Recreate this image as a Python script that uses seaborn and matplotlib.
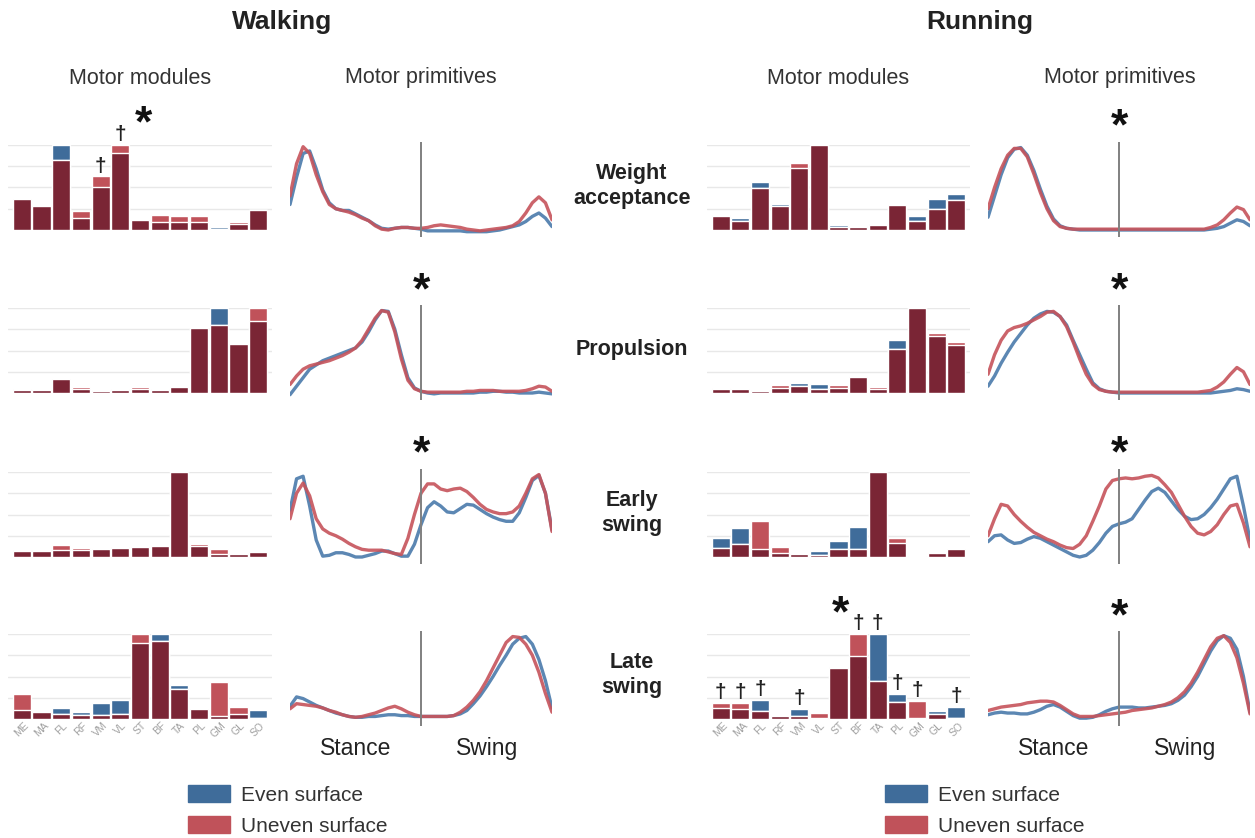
import numpy as np
import pandas as pd
import matplotlib
matplotlib.use("Agg")
import matplotlib.pyplot as plt
from matplotlib.patches import Patch
import seaborn as sns

sns.set_style("white")
plt.rcParams['font.family'] = ['Liberation Sans', 'DejaVu Sans']

# muscles on the module axes
muscles = ['ME', 'MA', 'FL', 'RF', 'VM', 'VL', 'ST', 'BF', 'TA', 'PL', 'GM', 'GL', 'SO']
synergies = ['Weight\nacceptance', 'Propulsion', 'Early\nswing', 'Late\nswing']

# motor modules (relative weights), one row per synergy
walk_even = [
    [0.36, 0.28, 1.00, 0.14, 0.50, 0.90, 0.12, 0.10, 0.09, 0.09, 0.03, 0.07, 0.24],
    [0.04, 0.04, 0.16, 0.05, 0.02, 0.04, 0.05, 0.04, 0.07, 0.77, 1.00, 0.58, 0.85],
    [0.08, 0.08, 0.08, 0.08, 0.10, 0.12, 0.12, 0.125, 1.00, 0.125, 0.04, 0.05, 0.055],
    [0.11, 0.08, 0.13, 0.085, 0.19, 0.22, 0.90, 1.00, 0.40, 0.12, 0.04, 0.06, 0.11],
]
walk_uneven = [
    [0.36, 0.28, 0.82, 0.22, 0.63, 1.00, 0.12, 0.18, 0.16, 0.16, 0.01, 0.09, 0.24],
    [0.05, 0.03, 0.16, 0.07, 0.03, 0.05, 0.07, 0.05, 0.07, 0.77, 0.80, 0.58, 1.00],
    [0.07, 0.07, 0.14, 0.11, 0.09, 0.11, 0.12, 0.125, 1.00, 0.15, 0.09, 0.04, 0.055],
    [0.29, 0.08, 0.06, 0.05, 0.05, 0.06, 1.00, 0.92, 0.35, 0.12, 0.43, 0.14, 0.01],
]
run_even = [
    [0.18, 0.14, 0.56, 0.31, 0.73, 1.00, 0.055, 0.03, 0.075, 0.29, 0.165, 0.36, 0.42],
    [0.05, 0.05, 0.03, 0.06, 0.12, 0.11, 0.06, 0.19, 0.05, 0.62, 1.00, 0.67, 0.56],
    [0.22, 0.34, 0.09, 0.05, 0.03, 0.07, 0.19, 0.35, 1.00, 0.16, 0.00, 0.045, 0.09],
    [0.13, 0.12, 0.22, 0.04, 0.12, 0.01, 0.61, 0.74, 1.00, 0.30, 0.01, 0.10, 0.14],
]
run_uneven = [
    [0.17, 0.11, 0.49, 0.28, 0.79, 1.00, 0.03, 0.05, 0.055, 0.29, 0.11, 0.25, 0.35],
    [0.06, 0.05, 0.02, 0.09, 0.08, 0.05, 0.09, 0.19, 0.07, 0.52, 1.00, 0.71, 0.60],
    [0.11, 0.15, 0.42, 0.12, 0.03, 0.02, 0.10, 0.09, 1.00, 0.22, 0.01, 0.045, 0.09],
    [0.19, 0.19, 0.10, 0.04, 0.04, 0.07, 0.60, 1.00, 0.45, 0.20, 0.21, 0.06, 0.015],
]

# motor primitives, gait cycle 0-200 in steps of 5 (stance 0-100, swing 100-200)
phase = list(range(0, 201, 5))
walk_prim_even = [
    [0.30, 0.62, 0.90, 0.93, 0.72, 0.47, 0.32, 0.25, 0.23, 0.23, 0.19, 0.15, 0.11, 0.06, 0.02, 0.01, 0.02, 0.03, 0.03, 0.02,
     0.01, -0.01, -0.01, -0.01, -0.01, -0.01, -0.01, -0.02, -0.02, -0.02, -0.02, -0.01, 0.00, 0.02, 0.04, 0.06, 0.10, 0.16, 0.20, 0.14,
     0.04],
    [-0.02, 0.08, 0.18, 0.28, 0.33, 0.38, 0.41, 0.44, 0.47, 0.50, 0.53, 0.60, 0.72, 0.86, 0.97, 0.96, 0.75, 0.45, 0.18, 0.06,
     0.02, 0.00, -0.01, 0.00, 0.00, 0.00, 0.00, 0.00, 0.00, 0.01, 0.01, 0.02, 0.02, 0.01, 0.01, 0.00, 0.00, 0.00, 0.01, 0.00,
     -0.01],
    [0.55, 0.92, 0.95, 0.60, 0.20, 0.01, 0.02, 0.05, 0.05, 0.03, 0.00, 0.00, 0.02, 0.04, 0.07, 0.07, 0.04, 0.01, 0.01, 0.15,
     0.38, 0.58, 0.65, 0.60, 0.53, 0.52, 0.57, 0.62, 0.61, 0.56, 0.51, 0.47, 0.44, 0.42, 0.42, 0.52, 0.70, 0.90, 0.96, 0.75,
     0.32],
    [0.15, 0.26, 0.24, 0.20, 0.16, 0.13, 0.10, 0.07, 0.05, 0.03, 0.02, 0.02, 0.03, 0.03, 0.04, 0.05, 0.05, 0.04, 0.04, 0.03,
     0.03, 0.03, 0.03, 0.03, 0.03, 0.04, 0.06, 0.10, 0.18, 0.27, 0.38, 0.50, 0.63, 0.75, 0.88, 0.95, 0.97, 0.88, 0.70, 0.45,
     0.13],
]
walk_prim_uneven = [
    [0.40, 0.78, 0.98, 0.90, 0.65, 0.45, 0.30, 0.25, 0.23, 0.21, 0.18, 0.14, 0.11, 0.05, 0.01, 0.00, 0.02, 0.03, 0.03, 0.02,
     0.02, 0.03, 0.05, 0.06, 0.05, 0.04, 0.03, 0.01, 0.00, -0.01, 0.00, 0.01, 0.02, 0.03, 0.05, 0.10, 0.20, 0.32, 0.39, 0.32,
     0.12],
    [0.10, 0.20, 0.28, 0.32, 0.34, 0.36, 0.38, 0.41, 0.44, 0.48, 0.53, 0.62, 0.75, 0.88, 0.97, 0.95, 0.72, 0.40, 0.15, 0.05,
     0.02, 0.01, 0.01, 0.01, 0.01, 0.01, 0.01, 0.02, 0.02, 0.03, 0.03, 0.03, 0.02, 0.02, 0.02, 0.02, 0.03, 0.05, 0.08, 0.07,
     0.02],
    [0.45, 0.75, 0.87, 0.72, 0.45, 0.33, 0.28, 0.25, 0.21, 0.16, 0.12, 0.09, 0.08, 0.08, 0.08, 0.06, 0.04, 0.03, 0.22, 0.50,
     0.75, 0.86, 0.86, 0.80, 0.78, 0.80, 0.81, 0.77, 0.70, 0.62, 0.56, 0.53, 0.51, 0.51, 0.53, 0.60, 0.75, 0.92, 0.97, 0.75,
     0.30],
    [0.12, 0.18, 0.17, 0.16, 0.15, 0.13, 0.10, 0.08, 0.05, 0.03, 0.02, 0.03, 0.05, 0.07, 0.10, 0.13, 0.15, 0.12, 0.08, 0.05,
     0.03, 0.03, 0.03, 0.03, 0.03, 0.04, 0.08, 0.14, 0.22, 0.32, 0.45, 0.60, 0.75, 0.90, 0.97, 0.96, 0.88, 0.75, 0.55, 0.30,
     0.08],
]
run_prim_even = [
    [0.15, 0.40, 0.65, 0.85, 0.95, 0.97, 0.88, 0.70, 0.48, 0.28, 0.13, 0.05, 0.02, 0.01, 0.00, 0.00, 0.00, 0.00, 0.00, 0.00,
     0.00, 0.00, 0.00, 0.00, 0.00, 0.00, 0.00, 0.00, 0.00, 0.00, 0.00, 0.00, 0.00, 0.00, 0.01, 0.02, 0.04, 0.08, 0.12, 0.10,
     0.05],
    [0.08, 0.20, 0.35, 0.48, 0.60, 0.70, 0.80, 0.88, 0.93, 0.96, 0.95, 0.90, 0.80, 0.62, 0.45, 0.28, 0.12, 0.05, 0.02, 0.01,
     0.00, 0.00, 0.00, 0.00, 0.00, 0.00, 0.00, 0.00, 0.00, 0.00, 0.00, 0.00, 0.00, 0.00, 0.00, 0.01, 0.02, 0.03, 0.05, 0.04,
     0.02],
    [0.18, 0.25, 0.26, 0.20, 0.16, 0.17, 0.21, 0.24, 0.22, 0.18, 0.14, 0.10, 0.06, 0.02, 0.00, 0.02, 0.08, 0.17, 0.28, 0.36,
     0.39, 0.41, 0.45, 0.56, 0.67, 0.77, 0.81, 0.76, 0.66, 0.56, 0.48, 0.44, 0.45, 0.50, 0.58, 0.68, 0.80, 0.92, 0.95, 0.60,
     0.20],
    [0.05, 0.07, 0.08, 0.07, 0.07, 0.06, 0.06, 0.08, 0.11, 0.15, 0.17, 0.14, 0.09, 0.04, 0.01, 0.01, 0.02, 0.05, 0.09, 0.12,
     0.14, 0.14, 0.14, 0.13, 0.13, 0.14, 0.15, 0.16, 0.18, 0.22, 0.28, 0.38, 0.50, 0.65, 0.80, 0.92, 0.98, 0.95, 0.82, 0.50,
     0.08],
]
run_prim_uneven = [
    [0.25, 0.50, 0.72, 0.88, 0.96, 0.96, 0.86, 0.66, 0.44, 0.25, 0.11, 0.04, 0.02, 0.01, 0.01, 0.01, 0.01, 0.01, 0.01, 0.01,
     0.01, 0.01, 0.01, 0.01, 0.01, 0.01, 0.01, 0.01, 0.01, 0.01, 0.01, 0.01, 0.01, 0.01, 0.03, 0.06, 0.12, 0.20, 0.27, 0.24,
     0.12],
    [0.22, 0.45, 0.62, 0.73, 0.77, 0.79, 0.82, 0.86, 0.90, 0.95, 0.96, 0.90, 0.78, 0.60, 0.40, 0.22, 0.10, 0.04, 0.02, 0.01,
     0.01, 0.01, 0.01, 0.01, 0.01, 0.01, 0.01, 0.01, 0.01, 0.01, 0.01, 0.01, 0.01, 0.02, 0.03, 0.07, 0.13, 0.22, 0.30, 0.25,
     0.10],
    [0.25, 0.45, 0.62, 0.60, 0.50, 0.42, 0.35, 0.29, 0.25, 0.21, 0.18, 0.14, 0.11, 0.10, 0.15, 0.25, 0.42, 0.60, 0.80, 0.90,
     0.92, 0.93, 0.92, 0.93, 0.95, 0.96, 0.93, 0.85, 0.76, 0.62, 0.48, 0.36, 0.28, 0.26, 0.30, 0.38, 0.50, 0.60, 0.62, 0.40,
     0.12],
    [0.10, 0.12, 0.14, 0.15, 0.16, 0.17, 0.19, 0.20, 0.21, 0.21, 0.20, 0.16, 0.11, 0.06, 0.03, 0.03, 0.03, 0.04, 0.05, 0.06,
     0.07, 0.08, 0.10, 0.11, 0.12, 0.13, 0.15, 0.17, 0.20, 0.25, 0.32, 0.42, 0.55, 0.70, 0.85, 0.95, 0.98, 0.90, 0.72, 0.42,
     0.06],
]

# significance marks
walk_daggers = {0: ['VM', 'VL']}
run_daggers = {3: ['ME', 'MA', 'FL', 'VM', 'BF', 'TA', 'PL', 'GM', 'SO']}

BLUE = '#3f6c9a'
RED = '#c0525a'
MAROON = '#7a2535'
LINE_BLUE = '#4a7aab'
LINE_RED = '#c6535b'

W, H = 1255, 838
fig = plt.figure(figsize=(12.55, 8.38), dpi=100)


def rect(x0, top, w, h):
    return [x0 / W, 1 - (top + h) / H, w / W, h / H]


def ftext(x, y, s, **kw):
    fig.text(x / W, 1 - y / H, s, **kw)


baselines = [230, 393, 557, 719]
unit = 85


def draw_modules(ax, even, uneven, daggers, last):
    df = pd.DataFrame({'muscle': muscles, 'even': even, 'uneven': uneven})
    df['both'] = df[['even', 'uneven']].min(axis=1)
    for y in [0.25, 0.5, 0.75, 1.0]:
        ax.axhline(y, color='#e8e8e8', lw=1.0, zorder=0)
    # even on the bottom, uneven over it, the shared part in maroon on top
    for col, c in [('even', BLUE), ('uneven', RED), ('both', MAROON)]:
        sns.barplot(data=df, x='muscle', y=col, color=c, width=0.92,
                    saturation=1, errorbar=None, ax=ax, zorder=2)
    for m in daggers:
        i = muscles.index(m)
        top = max(even[i], uneven[i])
        ax.text(i, top + 0.01, '\u2020', ha='center', va='bottom',
                fontsize=15, fontweight='bold', color='#222')
    ax.set_xlim(-0.7, 12.7)
    ax.set_ylim(0, 1.0)
    ax.set_xlabel('')
    ax.set_ylabel('')
    ax.set_yticks([])
    sns.despine(ax=ax, left=True, bottom=True)
    if last:
        ax.set_xticks(range(len(muscles)))
        ax.set_xticklabels(muscles, rotation=45, ha='center', fontsize=7.5, color='#a0a0a0')
        ax.tick_params(axis='x', length=0, pad=1)
    else:
        ax.set_xticks([])


def draw_prims(ax, even, uneven):
    sns.lineplot(x=phase, y=even, color=LINE_BLUE, lw=2.4, alpha=0.9, ax=ax,
                 solid_capstyle='round', solid_joinstyle='round')
    sns.lineplot(x=phase, y=uneven, color=LINE_RED, lw=2.4, alpha=0.9, ax=ax,
                 solid_capstyle='round', solid_joinstyle='round')
    ax.axvline(100, color='#808080', lw=1.4, zorder=3)
    ax.set_xlim(0, 200)
    ax.set_ylim(-0.08, 1.03)
    ax.axis('off')


for r, B in enumerate(baselines):
    ax = fig.add_axes(rect(8, B - unit, 264, unit))
    draw_modules(ax, walk_even[r], walk_uneven[r], walk_daggers.get(r, []), r == 3)
    ax = fig.add_axes(rect(707, B - unit, 263, unit))
    draw_modules(ax, run_even[r], run_uneven[r], run_daggers.get(r, []), r == 3)

    top = B - 1.03 * unit
    h = 1.11 * unit
    ax = fig.add_axes(rect(290, top, 262, h))
    draw_prims(ax, walk_prim_even[r], walk_prim_uneven[r])
    ax = fig.add_axes(rect(988, top, 262, h))
    draw_prims(ax, run_prim_even[r], run_prim_uneven[r])

    ftext(632, B - 44, synergies[r], ha='center', va='center', fontsize=15.5,
          fontweight='bold', color='#222', linespacing=1.25)

# headings
ftext(282, 22, 'Walking', ha='center', va='center', fontsize=19, fontweight='bold', color='#222')
ftext(980, 22, 'Running', ha='center', va='center', fontsize=19, fontweight='bold', color='#222')
for x, s in [(140, 'Motor modules'), (421, 'Motor primitives'),
             (838, 'Motor modules'), (1120, 'Motor primitives')]:
    ftext(x, 78, s, ha='center', va='center', fontsize=15.5, color='#333')

# significance stars
for x, y in [(143, 115), (421, 282), (421, 445), (1119, 118), (1119, 282),
             (1119, 445), (1119, 608), (840, 605)]:
    ftext(x, y + 10, '*', ha='center', va='center', fontsize=32, fontweight='bold', color='#111')

# phase labels
for x0 in [290, 988]:
    ftext(x0 + 66, 748, 'Stance', ha='center', va='center', fontsize=16.5, color='#222')
    ftext(x0 + 197, 748, 'Swing', ha='center', va='center', fontsize=16.5, color='#222')

# legends
handles = [Patch(color=BLUE, label='Even surface'), Patch(color=RED, label='Uneven surface')]
for x0 in [188, 885]:
    fig.legend(handles=handles, loc='upper left', bbox_to_anchor=(x0 / W, 1 - 785 / H),
               frameon=False, fontsize=15, handlelength=2.0, handleheight=0.85,
               handletextpad=0.55, labelspacing=0.55, borderpad=0, borderaxespad=0,
               labelcolor='#333')

fig.savefig('out.png', dpi=100, facecolor='white')
